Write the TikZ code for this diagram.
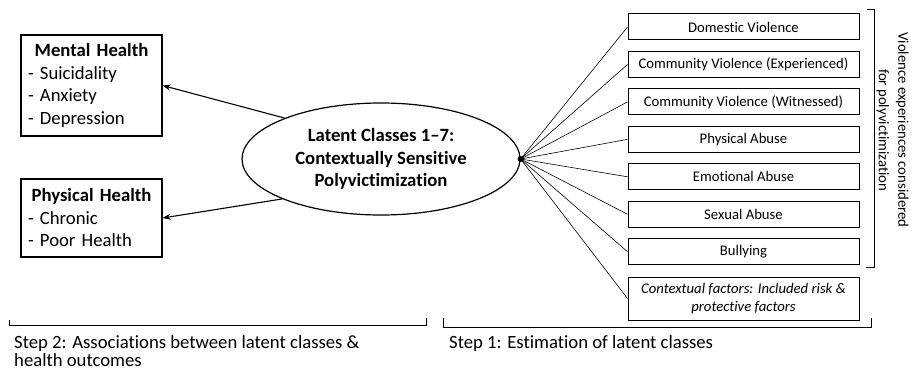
\documentclass[tikz,border=0pt]{standalone}
\usepackage{fontspec}
\setmainfont{Carlito}[Ligatures={TeX,NoCommon}]
\usetikzlibrary{arrows.meta,shapes.geometric}
\newcommand\bigf{\fontsize{18.7}{22.5}\selectfont}
\newcommand\smf{\fontsize{14.7}{18}\selectfont}
\begin{document}
\begin{tikzpicture}[x=1pt,y=-1pt,
  lbox/.style={draw, line width=1.2pt, minimum width=141pt, inner xsep=7pt, inner ysep=0pt, text width=127pt, align=left, font=\bigf},
  rbox/.style={draw, line width=1pt, minimum width=231pt, minimum height=26pt, inner sep=0pt, font=\smf},
  arr/.style={line width=1.1pt, -{Stealth[length=8pt,width=6pt]}},
  spoke/.style={line width=0.6pt},
  brk/.style={line width=0.8pt}]
\useasboundingbox (0,0) rectangle (912,377);
\fill[white] (0,0) rectangle (912,377);

\node[lbox, minimum height=101pt] (mh) at (91.5,85.5)
  {\makebox[127pt]{\textbf{Mental Health}}\\- Suicidality\\- Anxiety\\- Depression};
\node[lbox, minimum height=78pt] (ph) at (91.5,218)
  {\makebox[127pt]{\textbf{Physical Health}}\\- Chronic\\- Poor Health};

\node[ellipse, draw, line width=1.2pt, minimum width=278pt, minimum height=112pt, inner sep=0pt, align=center, font=\bigf\bfseries] (el) at (381,159)
  {Latent Classes 1--7:\\Contextually Sensitive\\Polyvictimization};
\node[circle, fill, inner sep=0pt, minimum size=6pt] (dot) at (el.east) {};

\draw[arr] (el.157) -- (mh.east);
\draw[arr] (el.202) -- (ph.east);

\node[rbox] (b1) at (743.5,27) {Domestic Violence};
\node[rbox] (b2) at (743.5,64.45) {Community Violence (Experienced)};
\node[rbox] (b3) at (743.5,101.9) {Community Violence (Witnessed)};
\node[rbox] (b4) at (743.5,139.35) {Physical Abuse};
\node[rbox] (b5) at (743.5,176.8) {Emotional Abuse};
\node[rbox] (b6) at (743.5,214.25) {Sexual Abuse};
\node[rbox] (b7) at (743.5,251.7) {Bullying};
\node[rbox, minimum height=43pt, align=center, font=\smf\itshape] (cf) at (743.5,298.5)
  {Contextual factors: Included risk \&\\protective factors};

\foreach \n in {b1,b2,b3,b4,b5,b6,b7,cf}
  \draw[spoke] (dot.center) -- (\n.west);

\draw[brk] (867,9) -- (874,9) -- (874,267) -- (866,267);
\node[rotate=-90, align=center, inner sep=0pt, font=\fontsize{14.7}{19.5}\selectfont] (vt) at (892.5,130)
  {Violence experiences considered\\for polyvictimization};

\draw[brk] (9,320) -- (9,325) -- (426,325) -- (426,318);
\draw[brk] (443,318) -- (443,327) -- (871,327) -- (871,318);

\node[anchor=north west, align=left, inner sep=0pt, font=\fontsize{18.7}{18.5}\selectfont] (s2) at (14,335)
  {Step 2: Associations between latent classes \&\\health outcomes};
\node[anchor=north west, inner sep=0pt, font=\bigf] (s1) at (449,335)
  {Step 1: Estimation of latent classes};
\end{tikzpicture}
\end{document}
